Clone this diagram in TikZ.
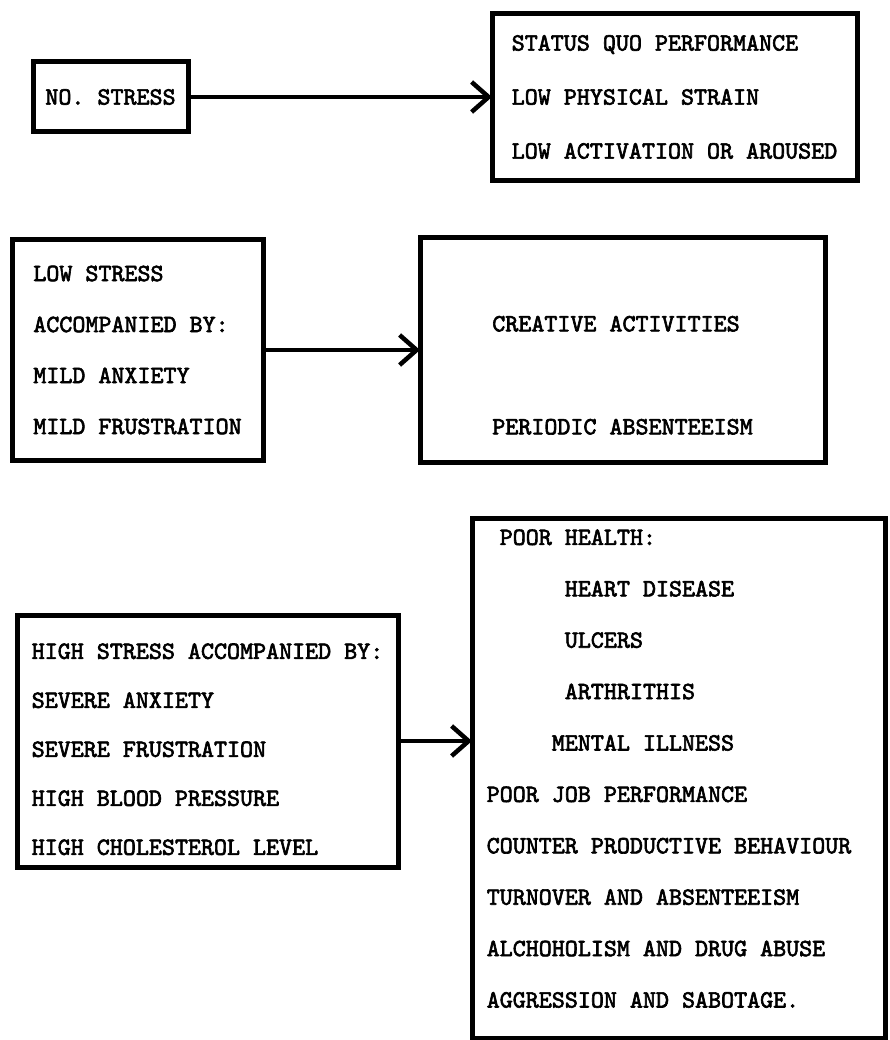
\documentclass[tikz,border=0pt]{standalone}
\usepackage{fontspec}
\newfontfamily\typefont{lmmono10-regular.otf}[FakeBold=2.5]
\usetikzlibrary{positioning,arrows.meta}
\newcommand{\padtop}[1]{\rule{0pt}{#1}}
\newcommand{\padbot}[1]{\rule[-#1]{0pt}{#1}}

\begin{document}
\begin{tikzpicture}[x=1pt,y=-1pt,
  box/.style={draw,line width=5pt,outer sep=0pt,inner sep=0pt,align=left,
    font=\typefont\fontsize{24.8pt}{#1}\selectfont},
  box/.default=51pt,
  flow/.style={-{Straight Barb[length=17pt,width=30pt]},line width=4.5pt}]
\useasboundingbox (0,0) rectangle (889,1040);
\node[box,align=center,minimum width=155pt,minimum height=70pt] (nostress) at (110.5,97) {NO. STRESS};
\node[box=54pt,minimum width=365pt,minimum height=167pt] (statusquo) [right=304pt of nostress]
  {STATUS QUO PERFORMANCE\\LOW PHYSICAL STRAIN\\LOW ACTIVATION OR AROUSED};
\node[box,minimum width=251pt,minimum height=220pt] (lowstress) at (137.5,350)
  {LOW STRESS\\ACCOMPANIED BY:\\MILD ANXIETY\\MILD FRUSTRATION};
\node[box=103pt,minimum width=405pt,minimum height=225pt] (creative) [right=157pt of lowstress]
  {\padtop{66pt}CREATIVE ACTIVITIES\\PERIODIC ABSENTEEISM};
\node[box=49pt,minimum width=381pt,minimum height=252pt] (highstress) at (207.5,741)
  {\padtop{32pt}HIGH STRESS ACCOMPANIED BY:\\SEVERE ANXIETY\\SEVERE FRUSTRATION\\HIGH BLOOD PRESSURE\\HIGH CHOLESTEROL LEVEL};
\node[box=51.4pt,minimum width=413pt,minimum height=520pt] (poorhealth) [right=74pt of highstress,yshift=-37pt]
  {\phantom{X}POOR HEALTH:\\\phantom{XXXXXX}HEART DISEASE\\\phantom{XXXXXX}ULCERS\\\phantom{XXXXXX}ARTHRITHIS\\
   \phantom{XXXXX}MENTAL ILLNESS\\POOR JOB PERFORMANCE\\COUNTER PRODUCTIVE BEHAVIOUR\rule{19pt}{0pt}\\TURNOVER AND ABSENTEEISM\\
   ALCHOHOLISM AND DRUG ABUSE\\AGGRESSION AND SABOTAGE.\padbot{19pt}};

\draw[flow] (nostress) -- (statusquo);
\draw[flow] (lowstress) -- (creative);
\draw[flow] (highstress.east) -- (highstress.east -| poorhealth.west);
\end{tikzpicture}
\end{document}
